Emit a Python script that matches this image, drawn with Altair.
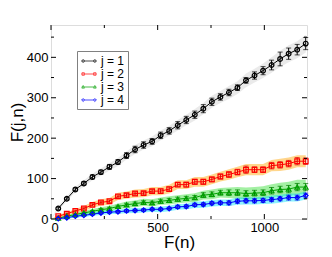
import altair as alt
import pandas as pd

# ---- data ----
xs = [34, 74, 114, 154, 194, 234, 274, 314, 354, 394, 434, 474, 514, 554, 594,
      634, 674, 714, 754, 794, 834, 874, 914, 954, 994, 1034, 1074, 1114, 1154, 1194]
y1 = [26, 50, 73, 88, 104, 116, 129, 141, 157, 172, 183, 192, 207, 218, 232,
      245, 258, 273, 290, 302, 313, 325, 343, 355, 367, 381, 396, 409, 419, 434]
y2 = [7, 13, 20, 26, 35, 41, 44, 56, 59, 63, 64, 69, 69, 74, 85,
      85, 92, 92, 98, 105, 110, 116, 122, 122, 122, 132, 134, 137, 143, 143]
y3 = [2, 7, 11, 15, 19, 23, 26, 31, 35, 38, 41, 40, 44, 46, 49,
      51, 53, 59, 61, 65, 65, 65, 63, 64, 65, 70, 73, 74, 79, 79]
y4 = [1, 3, 7, 9, 12, 15, 17, 18, 20, 21, 22, 24, 24, 26, 30,
      31, 35, 36, 39, 40, 40, 44, 45, 45, 46, 48, 50, 53, 53, 58]
e1 = [3, 3, 4, 4, 5, 5, 6, 6, 7, 8, 8, 7, 8, 8, 9,
      9, 9, 10, 9, 8, 8, 7, 7, 9, 10, 12, 17, 14, 13, 15]
e2 = [1, 2, 2, 2, 3, 3, 3, 4, 4, 4, 4, 4, 5, 5, 5,
      6, 6, 6, 6, 6, 7, 7, 9, 7, 7, 8, 8, 8, 9, 8]
e3 = [1, 1, 2, 2, 2, 3, 3, 3, 4, 4, 4, 4, 5, 5, 5,
      5, 5, 6, 6, 6, 7, 7, 7, 7, 7, 8, 8, 9, 9, 9]
e4 = [1, 1, 1, 2, 2, 2, 2, 3, 3, 3, 3, 3, 3, 3, 4,
      4, 4, 4, 4, 4, 5, 5, 5, 5, 5, 5, 5, 6, 6, 6]
# spread of the light background realisations around each mean curve
s1 = [5, 6, 7, 8, 8, 9, 9, 10, 10, 11, 11, 12, 12, 12, 13,
      13, 14, 14, 15, 15, 16, 16, 17, 17, 18, 19, 20, 21, 21, 22]
s2 = [3, 4, 5, 6, 7, 8, 8, 9, 9, 10, 10, 10, 10, 11, 11,
      11, 12, 12, 12, 12, 13, 13, 14, 14, 14, 14, 15, 15, 15, 15]
s3 = [2, 3, 4, 5, 6, 6, 7, 7, 8, 8, 9, 9, 9, 10, 10,
      10, 11, 11, 12, 12, 13, 14, 15, 15, 16, 16, 17, 18, 18, 18]
s4 = [2, 3, 3, 4, 4, 5, 5, 5, 6, 6, 6, 6, 7, 7, 7,
      7, 8, 8, 8, 8, 8, 9, 9, 9, 9, 10, 10, 10, 10, 10]

names = ["j = 1", "j = 2", "j = 3", "j = 4"]
colors = ["#000000", "#ff0000", "#00a000", "#0000ff"]
err_colors = ["#000000", "#e00000", "#007a00", "#0000cc"]
band_colors = ["#d0d0d0", "#ffa500", "#33dd33", "#00e5ff"]
shapes = ["circle", "square", "triangle-up", "diamond"]

x_major = [0, 500, 1000]
x_minor = [250, 750]
y_major = [0, 100, 200, 300, 400]
y_minor = [50, 150, 250, 350, 450]

rows = []
for name, ys, es, ss in zip(names, [y1, y2, y3, y4], [e1, e2, e3, e4], [s1, s2, s3, s4]):
    rows.append({"s": name, "x": 0, "y": None, "lo": 0, "hi": 0, "blo": 0, "bhi": 0})
    for x, y, e, s in zip(xs, ys, es, ss):
        rows.append({"s": name, "x": x, "y": y, "lo": y - e, "hi": y + e,
                     "blo": max(y - s, 0), "bhi": y + s})
df = pd.DataFrame(rows)
pts = df.dropna(subset=["y"])

W, H = 256, 194
xsc = alt.Scale(domain=[0, 1200], nice=False, zero=False)
ysc = alt.Scale(domain=[0, 480], nice=False, zero=False)

def xenc(f="x"):
    return alt.X(f"{f}:Q", scale=xsc,
                 axis=alt.Axis(values=x_major, title="F(n)", grid=False, ticks=False,
                               domain=False, labelFontSize=13, titleFontSize=17,
                               labelPadding=2, titlePadding=0, labelColor="black",
                               titleColor="black", titleFontWeight="normal", format="d",
                               labelFont="Liberation Sans", titleFont="Liberation Sans"))

def yenc(f="y"):
    return alt.Y(f"{f}:Q", scale=ysc,
                 axis=alt.Axis(values=y_major, title="F(j,n)", grid=False, ticks=False,
                               domain=False, labelFontSize=13, titleFontSize=17,
                               labelPadding=3, titlePadding=0, labelColor="black",
                               titleColor="black", titleFontWeight="normal", format="d",
                               labelFont="Liberation Sans", titleFont="Liberation Sans"))

cS = alt.Color("s:N", scale=alt.Scale(domain=names, range=colors), legend=None)

band = alt.Chart(df).mark_area(opacity=0.45, clip=True).encode(
    x=xenc(), y=yenc("blo"), y2="bhi:Q",
    color=alt.Color("s:N", scale=alt.Scale(domain=names, range=band_colors), legend=None),
    detail="s:N")

lines = alt.Chart(pts).mark_line(strokeWidth=1).encode(
    x=xenc(), y=yenc(), color=cS, detail="s:N")

ebar = alt.Chart(pts).mark_rule(strokeWidth=1).encode(
    x=xenc(), y=yenc("lo"), y2="hi:Q",
    color=alt.Color("s:N", scale=alt.Scale(domain=names, range=err_colors), legend=None))
ecap_lo = alt.Chart(pts).mark_tick(orient="horizontal", size=5, thickness=1).encode(
    x=xenc(), y=yenc("lo"),
    color=alt.Color("s:N", scale=alt.Scale(domain=names, range=err_colors), legend=None))
ecap_hi = alt.Chart(pts).mark_tick(orient="horizontal", size=5, thickness=1).encode(
    x=xenc(), y=yenc("hi"),
    color=alt.Color("s:N", scale=alt.Scale(domain=names, range=err_colors), legend=None))

points = alt.Chart(pts).mark_point(filled=False, size=22, strokeWidth=1.2, opacity=1).encode(
    x=xenc(), y=yenc(), color=cS,
    shape=alt.Shape("s:N", scale=alt.Scale(domain=names, range=shapes), legend=None))

# legend layer (no marks drawn, only legend)
leg_paths = [
    "M-1.2,0L1.2,0M-0.73,0A0.22,0.22,0,1,0,-1.17,0A0.22,0.22,0,1,0,-0.73,0"
    "M1.17,0A0.22,0.22,0,1,0,0.73,0A0.22,0.22,0,1,0,1.17,0",
    "M-1.2,0L1.2,0M-1.15,-0.2H-0.75V0.2H-1.15ZM0.75,-0.2H1.15V0.2H0.75Z",
    "M-1.2,0L1.2,0M-0.95,-0.25L-0.73,0.18L-1.17,0.18ZM0.95,-0.25L1.17,0.18L0.73,0.18Z",
    "M-1.2,0L1.2,0M-0.95,-0.25L-0.7,0L-0.95,0.25L-1.2,0ZM0.95,-0.25L1.2,0L0.95,0.25L0.7,0Z",
]
leg = alt.Legend(title=None, orient="none", legendX=26, legendY=26,
                 strokeColor="#808080", fillColor="white", padding=3,
                 labelFontSize=12, labelFont="Liberation Sans", labelColor="black",
                 symbolSize=150, symbolStrokeWidth=1, rowPadding=0, labelOffset=5,
                 symbolOffset=2)
legend_layer = alt.Chart(pts).transform_filter("datum.x < 0").mark_point(
    filled=False, strokeWidth=1).encode(
    x=xenc(), y=yenc(),
    color=alt.Color("series:N", scale=alt.Scale(domain=names, range=colors), legend=leg),
    shape=alt.Shape("series:N", scale=alt.Scale(domain=names, range=leg_paths), legend=leg),
).transform_calculate(series="datum.s")

# inward ticks on all four sides
tx = pd.DataFrame({"v": x_major + x_minor, "len": [5] * len(x_major) + [3] * len(x_minor)})
ty = pd.DataFrame({"v": y_major + y_minor, "len": [5] * len(y_major) + [3] * len(y_minor)})
tick_b = alt.Chart(tx).transform_calculate(a=f"{H}", b=f"{H} - datum.len").mark_rule(
    color="black").encode(x=alt.X("v:Q", scale=xsc), y=alt.Y("a:Q", scale=None), y2="b:Q")
tick_t = alt.Chart(tx).transform_calculate(a="0", b="datum.len").mark_rule(
    color="black").encode(x=alt.X("v:Q", scale=xsc), y=alt.Y("a:Q", scale=None), y2="b:Q")
tick_l = alt.Chart(ty).transform_calculate(a="0", b="datum.len").mark_rule(
    color="black").encode(y=alt.Y("v:Q", scale=ysc), x=alt.X("a:Q", scale=None), x2="b:Q")
tick_r = alt.Chart(ty).transform_calculate(a=f"{W}", b=f"{W} - datum.len").mark_rule(
    color="black").encode(y=alt.Y("v:Q", scale=ysc), x=alt.X("a:Q", scale=None), x2="b:Q")

chart = alt.layer(
    band, lines, ebar, ecap_lo, ecap_hi, points, legend_layer,
    tick_b, tick_t, tick_l, tick_r
).resolve_scale(color="independent", shape="independent").properties(
    width=W, height=H,
    autosize=alt.AutoSizeParams(type="none"),
    padding={"left": 43, "top": 17, "right": 10, "bottom": 38},
).configure_view(stroke="black", strokeWidth=1).configure(background="white")

chart.save("out.html", embed_options={"renderer": "svg", "actions": False})
